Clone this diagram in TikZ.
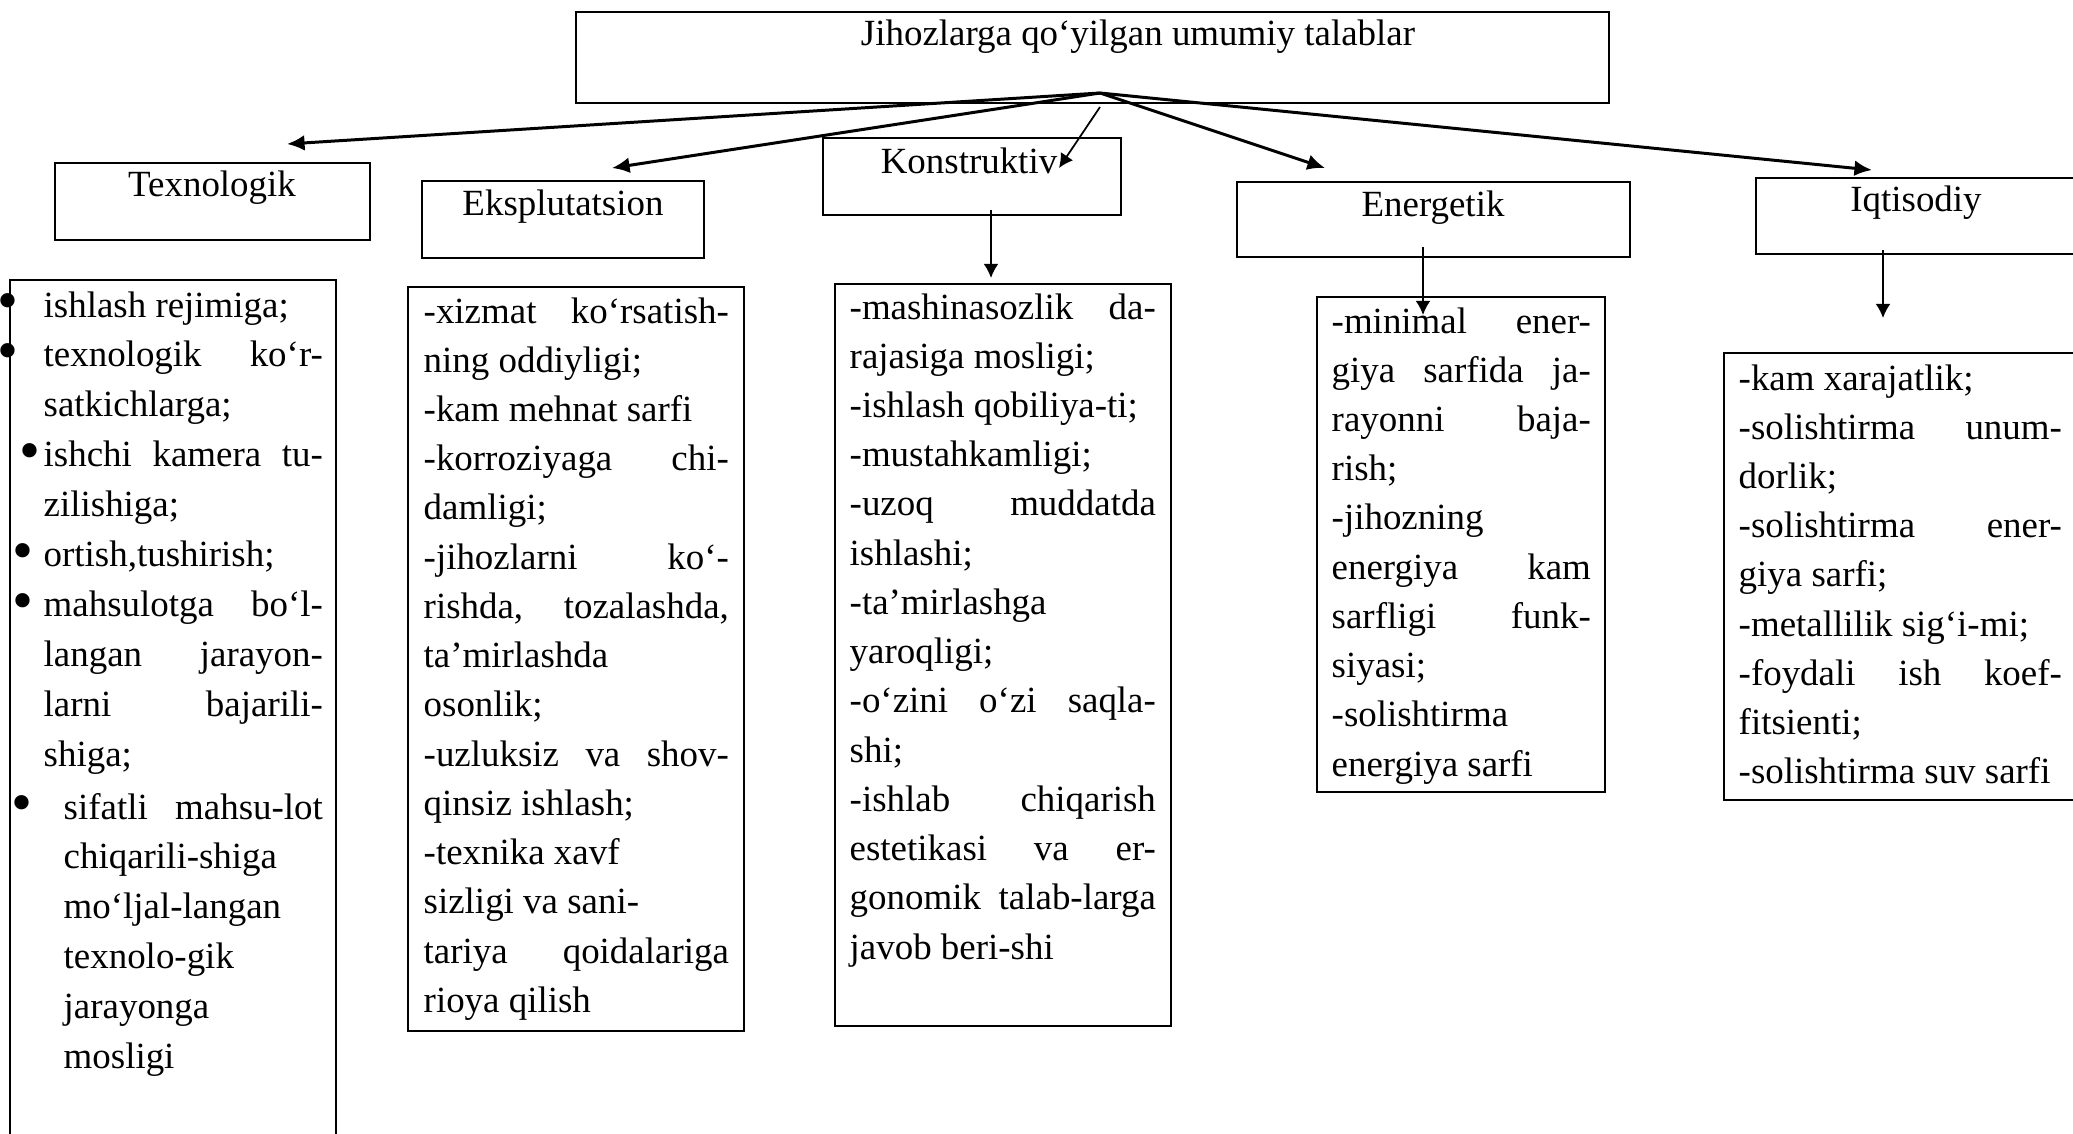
\documentclass[tikz,border=0pt]{standalone}
\usepackage{fontspec}
\setmainfont{Liberation Serif}
\usetikzlibrary{arrows.meta,fit}
\newcommand{\jl}[1]{{\spaceskip=0pt\xspaceskip=0pt\makebox[\linewidth][s]{#1}}}% justified line
\newcommand{\bul}[1]{\leavevmode\llap{\raisebox{-1.1pt}{\fontsize{17}{17}\selectfont\textbullet}\hspace{#1}}}
\tikzset{
	frame/.style={draw, line width=0.57pt, inner sep=0pt},
	head/.style={inner sep=0pt, anchor=base, font=\fontsize{10.5}{14}\selectfont},
	items/.style={inner sep=0pt, anchor=base west, align=flush left, text width=#1, font=\fontsize{10.5}{14}\selectfont},
	bigarrow/.style={line width=0.85pt, -{Latex[length=5pt,width=4.5pt]}},
	smallarrow/.style={line width=0.5pt, -{Latex[length=4pt,width=4.2pt]}},
}

\begin{document}
\begin{tikzpicture}[x=0.01cm,y=-0.01cm]
	\useasboundingbox (0,0) rectangle (2073,1133);
	% boxes
	\node[frame, fit={(576,12) (1609,103)}] (top) {};
	\node[frame, fit={(55,163) (370,240)}] (tex) {};
	\node[frame, fit={(422,181) (704,258)}] (eks) {};
	\node[frame, fit={(823,138) (1121,215)}] (kon) {};
	\node[frame, fit={(1237,182) (1630,257)}] (ene) {};
	\node[frame, fit={(1756,178) (2090,254)}] (iqt) {};
	\node[frame, fit={(10,280) (336,1150)}] (texbox) {};
	\node[frame, fit={(408,287) (744,1031)}] (eksbox) {};
	\node[frame, fit={(835,284) (1171,1026)}] (konbox) {};
	\node[frame, fit={(1317,297) (1605,792)}] (enebox) {};
	\node[frame, fit={(1724,353) (2090,800)}] (iqtbox) {};
	% headings
	\node[head] (toptext) at (1138,45) {Jihozlarga qo‘yilgan umumiy talablar};
	\node[head] (textext) at (212,196) {Texnologik};
	\node[head] (ekstext) at (563,215) {Eksplutatsion};
	\node[head] (kontext) at (969,173) {Konstruktiv};
	\node[head] (enetext) at (1433,216) {Energetik};
	\node[head] (iqttext) at (1916,211) {Iqtisodiy};
	% arrows
	\coordinate (hub) at (1100,93);
	\coordinate (hubk) at (1100,107);
	\coordinate (texend) at (287,144);
	\coordinate (eksend) at (612,168);
	\coordinate (konend) at (1059,168);
	\coordinate (eneend) at (1325,168);
	\coordinate (iqtend) at (1872,170);
	\draw[bigarrow] (hub) -- (texend);
	\draw[bigarrow] (hub) -- (eksend);
	\draw[smallarrow] (hubk) -- (konend);
	\draw[bigarrow] (hub) -- (eneend);
	\draw[bigarrow] (hub) -- (iqtend);
	\coordinate (konfrom) at (991,210);
	\coordinate (konto) at (991,278);
	\coordinate (enefrom) at (1423,247);
	\coordinate (eneto) at (1423,315);
	\coordinate (iqtfrom) at (1883,250);
	\coordinate (iqtto) at (1883,318);
	\draw[smallarrow] (konfrom) -- (konto);
	\draw[smallarrow] (enefrom) -- (eneto);
	\draw[smallarrow] (iqtfrom) -- (iqtto);
	% lists
	\node[items=2.79cm, font=\fontsize{10.5}{14.2}\selectfont] (texlist) at (43,317) {%
		\bul{0.25cm}ishlash rejimiga;\\
		\bul{0.25cm}\jl{texnologik ko‘r-}\\
		satkichlarga;\\
		\bul{0.035cm}\jl{ishchi kamera tu-}\\
		zilishiga;\\
		\bul{0.10cm}ortish,tushirish;\\
		\bul{0.10cm}\jl{mahsulotga bo‘l-}\\
		\jl{langan jarayon-}\\
		\jl{larni bajarili-}\\
		shiga;};
	\node[items=2.59cm, font=\fontsize{10.5}{14.2}\selectfont] (texlast) at (63,819) {%
		\bul{0.31cm}\jl{sifatli mahsu-lot}\\
		chiqarili-shiga\\
		mo‘ljal-langan\\
		texnolo-gik\\
		jarayonga\\
		mosligi};
	\node[items=3.05cm] (ekslist) at (423,323) {%
		\jl{-xizmat ko‘rsatish-}\\
		ning oddiyligi;\\
		-kam mehnat sarfi\\
		\jl{-korroziyaga chi-}\\
		damligi;\\
		\jl{-jihozlarni ko‘-}\\
		\jl{rishda, tozalashda,}\\
		ta’mirlashda\\
		osonlik;\\
		\jl{-uzluksiz va shov-}\\
		qinsiz ishlash;\\
		-texnika xavf\\
		sizligi va sani-\\
		\jl{tariya qoidalariga}\\
		rioya qilish};
	\node[items=3.06cm] (konlist) at (849,319) {%
		\jl{-mashinasozlik da-}\\
		rajasiga mosligi;\\
		-ishlash qobiliya-ti;\\
		-mustahkamligi;\\
		\jl{-uzoq muddatda}\\
		ishlashi;\\
		-ta’mirlashga\\
		yaroqligi;\\
		\jl{-o‘zini o‘zi saqla-}\\
		shi;\\
		\jl{-ishlab chiqarish}\\
		\jl{estetikasi va er-}\\
		\jl{gonomik talab-larga}\\
		javob beri-shi};
	\node[items=2.59cm] (enelist) at (1331,333) {%
		\jl{-minimal ener-}\\
		\jl{giya sarfida ja-}\\
		\jl{rayonni baja-}\\
		rish;\\
		-jihozning\\
		\jl{energiya kam}\\
		\jl{sarfligi funk-}\\
		siyasi;\\
		-solishtirma\\
		energiya sarfi};
	\node[items=3.23cm] (iqtlist) at (1738,390) {%
		-kam xarajatlik;\\
		\jl{-solishtirma unum-}\\
		dorlik;\\
		\jl{-solishtirma ener-}\\
		giya sarfi;\\
		-metallilik sig‘i-mi;\\
		\jl{-foydali ish koef-}\\
		fitsienti;\\
		-solishtirma suv sarfi};
\end{tikzpicture}
\end{document}
